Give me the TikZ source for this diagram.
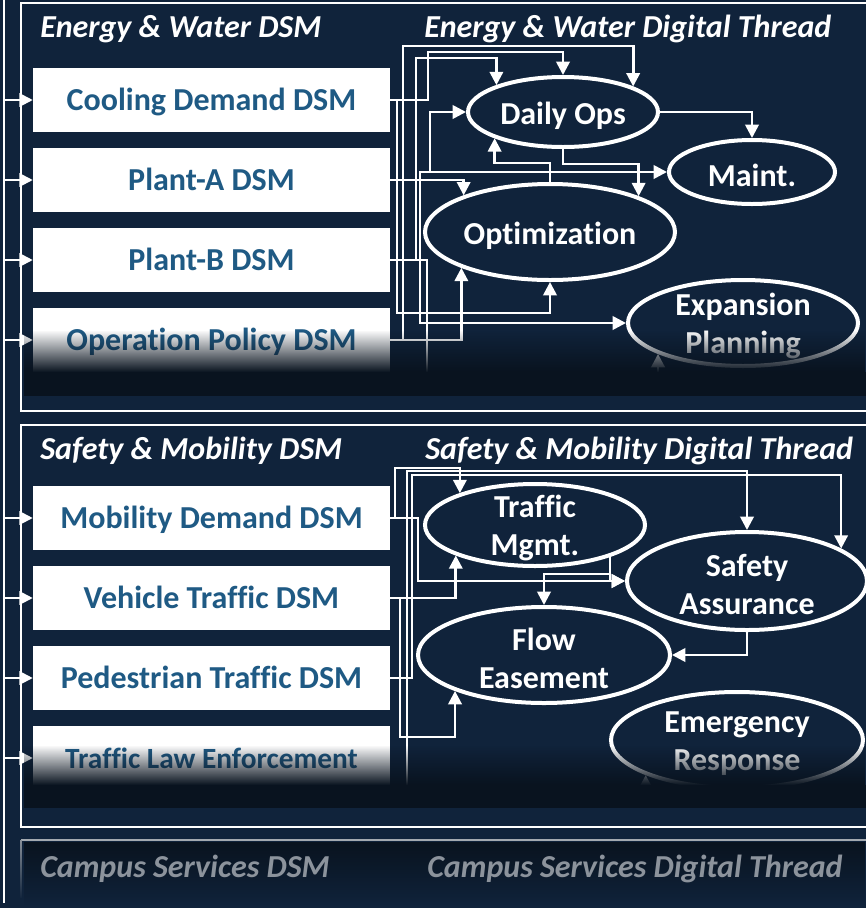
\documentclass[tikz,border=0pt]{standalone}
\usepackage{fontspec}
\setmainfont{Carlito}[Ligatures=NoCommon]
\usetikzlibrary{positioning,shapes.geometric,arrows.meta,fadings}

\definecolor{navy}{HTML}{10233B}
\definecolor{navydeep}{HTML}{09131F}
\definecolor{dsmblue}{HTML}{1F5A84}
\definecolor{campusgray}{HTML}{8C939C}

\tikzset{
  >={Triangle[length=10pt,width=10pt]},
  dsm/.style={rectangle, fill=white, text=dsmblue, minimum width=267.75pt,
    minimum height=48pt, inner sep=0pt, text height=17pt, text depth=1.6pt,
    font=\bfseries\fontsize{24}{26}\selectfont},
  thread/.style={ellipse, draw=white, line width=3pt, fill=navy, inner sep=0pt},
  threadtext/.style={text=white, align=center, inner sep=0pt, yshift=-2.5pt,
    font=\bfseries\fontsize{24}{28.5}\selectfont},
  link/.style={draw=white, line width=2pt, ->},
  feed/.style={draw=white, line width=1.6pt, ->},
  paneltitle/.style={anchor=base west, text=white, inner sep=0pt,
    font=\bfseries\itshape\fontsize{24}{26}\selectfont},
  frame/.style={draw=white, line width=2pt},
}

\begin{document}
\begin{tikzpicture}[x=0.75pt,y=-0.75pt]
  \useasboundingbox (0,0) rectangle (866,908);
  \fill[navy] (0,0) rectangle (866,908);
  \clip (0,0) rectangle (866,908);

  % panel frames
  \draw[frame] (21,3) rectangle (880,411);
  \draw[frame] (21,425) rectangle (880,827);

  % panel headings
  \node[paneltitle] (ewdsm) at (40,37) {Energy \& Water DSM};
  \node[paneltitle] (ewthread) at (424,37) {Energy \& Water Digital Thread};
  \node[paneltitle] (smdsm) at (40,459) {Safety \& Mobility DSM};
  \node[paneltitle] (smthread) at (425,459) {Safety \& Mobility Digital Thread};

  % DSM boxes
  \node[dsm] (cool) at (211.5,100) {Cooling Demand DSM};
  \node[dsm] (plantA) at (211.5,180) {Plant-A DSM};
  \node[dsm] (plantB) at (211.5,260) {Plant-B DSM};
  \node[dsm] (policy) at (211.5,340) {Operation Policy DSM};
  \node[dsm] (mobility) at (211.5,518) {Mobility Demand DSM};
  \node[dsm] (vehicle) at (211.5,598) {Vehicle Traffic DSM};
  \node[dsm] (pedestrian) at (211.5,678) {Pedestrian Traffic DSM};
  \node[dsm, font=\bfseries\fontsize{22}{24}\selectfont] (lawenf) at (211.5,758) {Traffic Law Enforcement};

  % feed rail on the left
  \coordinate (railtop) at (4,0);
  \coordinate (railend) at (4,903);
  \draw[white, line width=1.6pt] (railtop) -- (railend);
  \foreach \b in {cool,plantA,plantB,policy,mobility,vehicle,pedestrian,lawenf}
    \draw[feed] (railtop |- \b.west) -- (\b.west);

  % energy & water thread
  \node[thread, minimum width=142.5pt, minimum height=52.5pt,
    label={[threadtext]center:Daily Ops}] (daily) at (563,112) {};
  \node[thread, minimum width=124.5pt, minimum height=48pt,
    label={[threadtext]center:Maint.}] (maint) at (752,172) {};
  \node[thread, minimum width=187.5pt, minimum height=72pt,
    label={[threadtext]center:Optimization}] (optim) at (550,232) {};
  \node[thread, minimum width=172.5pt, minimum height=64.5pt,
    label={[threadtext]center:Expansion\\Planning}] (expan) at (743,323) {};

  \draw[link] (cool.east) -| (428,52) -| (daily.north);
  \draw[link] (cool.east) -| (397,313) -| (optim.south);
  \draw[link] (plantA.east) -| (optim.157.3);
  \draw[link] (plantA.east) -| (420,172) -- (maint.west);
  \coordinate (opsin) at (430,172);
  \draw[link] (opsin) |- (daily.west);
  \draw[link] (plantA.east) -| (420,323) -- (expan.west);
  \draw[link] (plantB.east) -| (416,58) -| (daily.158.8);
  \draw[link] (plantB.east) -| (427,388) -| (expan.200.9);
  \draw[link] (policy.east) -| (403,46) -| (daily.20.6);
  \draw[link] (policy.east) -| (optim.202.5);
  \draw[link] (optim.north) -- ++(0,-19) -| (daily.201.2);
  \draw[link] (daily.south) -- ++(0,15) -| (optim.22.3);
  \draw[link] (daily.east) -| (maint.north);

  % safety & mobility thread
  \node[thread, minimum width=165pt, minimum height=61.5pt,
    label={[threadtext]center:Traffic\\Mgmt.}] (traffic) at (535,525) {};
  \node[thread, minimum width=180pt, minimum height=73.5pt,
    label={[threadtext]center:Safety\\Assurance}] (safety) at (747,581) {};
  \node[thread, minimum width=189pt, minimum height=72pt,
    label={[threadtext]center:Flow\\Easement}] (flow) at (544,655) {};
  \node[thread, minimum width=189pt, minimum height=72pt,
    label={[threadtext]center:Emergency\\Response}] (emerg) at (737,740) {};

  \draw[link] (mobility.east) -| (395,468) -| (traffic.157.9);
  \draw[link] (mobility.east) -| (418,581) -- (safety.west);
  \draw[link] (vehicle.east) -| (traffic.201.6);
  \draw[link] (vehicle.east) -| (400,737) -| (flow.202);
  \draw[link] (pedestrian.east) -| (412,475) -| (safety.19.5);
  \draw[link] (lawenf.south) |- (407,800) -- (407,471) -| (safety.north);
  \draw[link] (lawenf.south) -- ++(0,10) -| (emerg.201.6);
  \draw[link] (traffic.337.9) |- (safety.west);
  \draw[link] (traffic.337.9) -- ++(0,17) -| (flow.north);
  \draw[link] (safety.south) |- (flow.east);

  % soft fade at the foot of each panel
  \fill[navydeep, path fading=north] (24,330) rectangle (866,372);
  \fill[navydeep] (24,372) rectangle (866,396);
  \fill[navydeep, path fading=north] (24,745) rectangle (866,785);
  \fill[navydeep] (24,785) rectangle (866,808);

  % campus services panel, greyed out
  \draw[campusgray!80!white, line width=2pt] (21,840) -- (880,840);
  \draw[campusgray, line width=2pt, path fading=south] (21,840) -- (21,898);
  \fill[navydeep, path fading=south] (24,842) rectangle (866,905);
  \node[paneltitle, text=campusgray] (csdsm) at (40,877) {Campus Services DSM};
  \node[paneltitle, text=campusgray] (csthread) at (427,877) {Campus Services Digital Thread};
\end{tikzpicture}
\end{document}
